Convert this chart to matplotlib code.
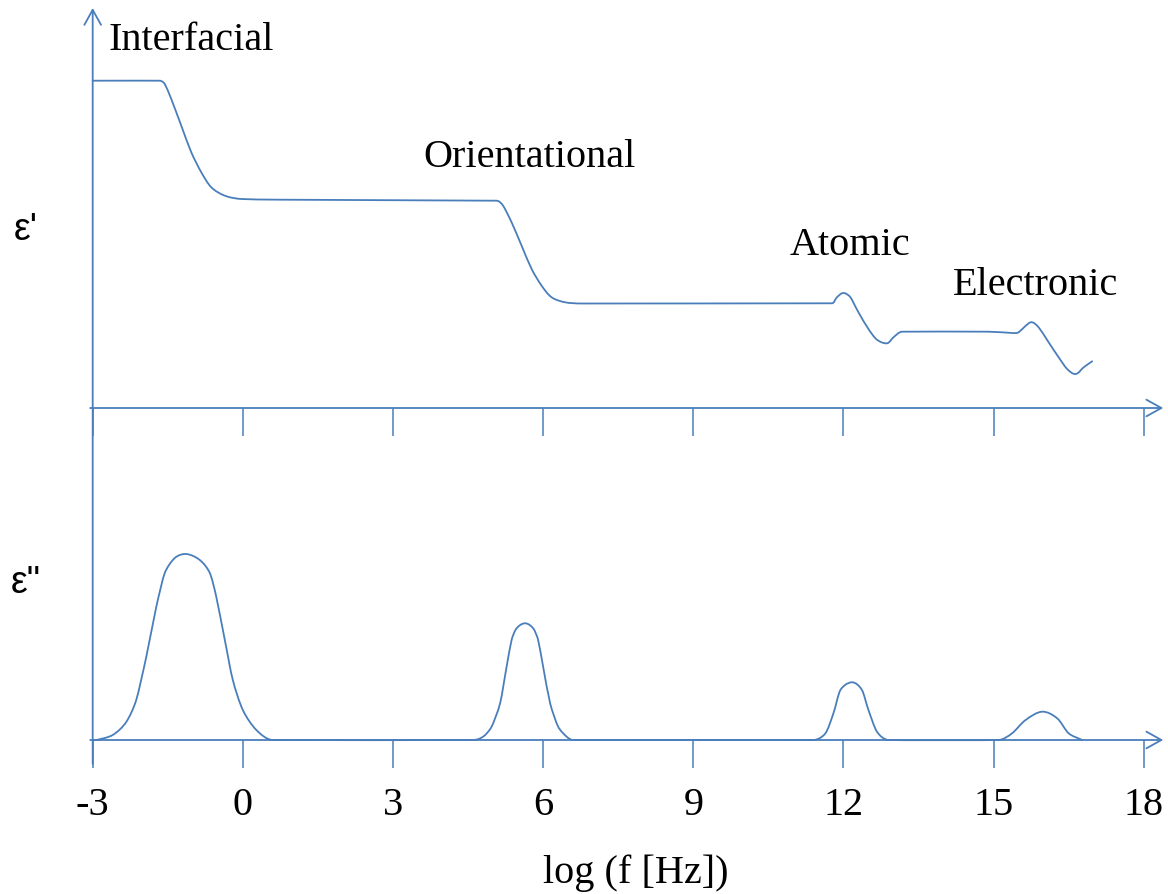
import matplotlib
matplotlib.use("Agg")
import numpy as np
import matplotlib.pyplot as plt
from matplotlib.path import Path
from matplotlib.patches import PathPatch

plt.rcParams["font.family"] = ["Liberation Serif", "DejaVu Serif"]

# log10 of frequency in Hz
tick_values = [-3, 0, 3, 6, 9, 12, 15, 18]
tick_labels = ["-3", "0", "3", "6", "9", "12", "15", "18"]
axis_start = -3

# real part of the permittivity (arbitrary units), stepping down at each mechanism
eps_real_x = [-3.0, -1.66, -1.56, -1.43, -1.23, -1.03, -0.83, -0.63, -0.36, -0.03,
              0.77, 5.07, 5.20, 5.37, 5.57, 5.77, 5.97, 6.17, 6.44, 6.77,
              11.77, 11.87, 12.0, 12.14, 12.30, 12.50, 12.67, 12.87, 13.0, 13.17,
              14.9, 15.37, 15.5, 15.74, 15.9, 16.1, 16.3, 16.47, 16.64, 16.8, 16.97]
eps_real_y = [327.3, 327.3, 324, 309, 282.3, 255.7, 235.7, 220.7, 212.3, 209,
              208.3, 207.3, 202.3, 185.7, 162.3, 139, 122.3, 110.7, 105.7, 104.5,
              104.7, 110.7, 115, 110.7, 95.7, 79, 68.3, 64.7, 70.7, 76.3,
              76.3, 75, 75.7, 85.7, 80.7, 65.7, 50.7, 39, 34, 40.7, 46.7]

# imaginary part (loss), one peak per mechanism
eps_imag_x = [-3.0, -2.93, -2.60, -2.33, -2.13, -1.93, -1.73, -1.56, -1.36, -1.13,
              -0.86, -0.66, -0.53, -0.36, -0.20, 0.0, 0.27, 0.60,
              4.60, 4.80, 4.97, 5.14, 5.27, 5.37, 5.47, 5.64, 5.80, 5.90,
              6.00, 6.14, 6.30, 6.47, 6.60,
              11.40, 11.64, 11.80, 11.94, 12.17, 12.37, 12.50, 12.67, 12.90,
              15.10, 15.37, 15.64, 15.97, 16.27, 16.50, 16.77]
eps_imag_y = [0, 0, 5, 18, 40, 83, 133, 167, 182, 186,
              180, 167, 143, 100, 60, 30, 10, 0,
              0, 3.3, 13.3, 36.7, 73.3, 100, 111.7, 116.7, 111.7, 100,
              73.3, 36.7, 13.3, 3.3, 0,
              0, 6.7, 26.7, 50, 57.7, 50, 30, 8.3, 0,
              0, 6.7, 20, 28.3, 21.7, 6.7, 0]

mechanisms = ["Interfacial", "Orientational", "Atomic", "Electronic"]
mech_x = [-2.694, 3.60, 10.93, 14.19]
mech_y = [359, 242, 154, 114]

BLUE = "#4a7ebb"
LW = 1.3
W, H = 1168, 895
XMIN, XMAX = -4.852, 18.485
ARROW_END = 18.39


def smooth_path(ax, xs, ys):
    """Cubic Bezier path through the points, built in display space.
    Handle lengths are capped by the neighbouring segment so long flat
    stretches stay straight."""
    pts = ax.transData.transform(np.column_stack([xs, ys]))
    n = len(pts)
    seg = np.hypot(*(pts[1:] - pts[:-1]).T)
    tang = np.zeros_like(pts)
    for i in range(n):
        a = pts[max(i - 1, 0)]
        b = pts[min(i + 1, n - 1)]
        d = b - a
        norm = np.hypot(*d)
        tang[i] = d / norm if norm > 0 else 0
    verts = [pts[0]]
    codes = [Path.MOVETO]
    for i in range(n - 1):
        p0, p1 = pts[i], pts[i + 1]
        prev_len = seg[i - 1] if i > 0 else seg[i]
        next_len = seg[i + 1] if i + 1 < n - 1 else seg[i]
        h0 = min(seg[i], prev_len) / 3.0
        h1 = min(seg[i], next_len) / 3.0
        verts += [p0 + tang[i] * h0, p1 - tang[i + 1] * h1, p1]
        codes += [Path.CURVE4] * 3
    verts = ax.transData.inverted().transform(np.array(verts))
    return Path(verts, codes)


fig = plt.figure(figsize=(W / 100, H / 100), dpi=100)
ax_top = fig.add_axes([0, 486 / H, 1, 409 / H])
ax_bot = fig.add_axes([0, 154 / H, 1, 332 / H])

arrow = dict(arrowstyle="->,head_length=0.54,head_width=0.3", color=BLUE,
             lw=LW, shrinkA=0, shrinkB=0, mutation_scale=20)

for ax, top in ((ax_top, 409), (ax_bot, 332)):
    ax.set_xlim(XMIN, XMAX)
    ax.set_ylim(0, top)
    for s in ax.spines.values():
        s.set_visible(False)
    ax.set_yticks([])
    ax.set_xticks(tick_values)
    ax.tick_params(axis="x", direction="out", length=20, width=1.1,
                   color=BLUE, pad=13, labelsize=29)
    ax.annotate("", xy=(ARROW_END, 0), xytext=(axis_start - 0.05, 0),
                arrowprops=arrow, annotation_clip=False)
    ax.patch.set_visible(False)

ax_top.set_xticklabels([])
ax_bot.set_xticklabels(tick_labels)

# vertical axis running through both panels
ax_top.annotate("", xy=(axis_start, 400), xytext=(axis_start, -356),
                arrowprops=arrow, annotation_clip=False)

for ax, xs, ys in ((ax_top, eps_real_x, eps_real_y),
                   (ax_bot, eps_imag_x, eps_imag_y)):
    ax.add_patch(PathPatch(smooth_path(ax, xs, ys), facecolor="none",
                           edgecolor=BLUE, lw=LW, clip_on=False,
                           joinstyle="round", capstyle="round"))

for name, x, y in zip(mechanisms, mech_x, mech_y):
    ax_top.text(x, y, name, fontsize=29, ha="left", va="baseline")

ax_top.text(-4.33, 169, "ε'", fontsize=27, ha="center", va="baseline",
            family=["Liberation Sans", "DejaVu Sans"])
ax_bot.text(-4.33, 148, "ε\"", fontsize=27, ha="center", va="baseline",
            family=["Liberation Sans", "DejaVu Sans"])

fig.text(635.5 / W, 12 / H, "log (f [Hz])", fontsize=29, ha="center",
         va="baseline")

fig.savefig("out.png", dpi=100)
